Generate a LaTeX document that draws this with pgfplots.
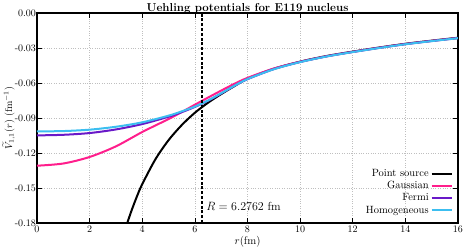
\documentclass[border=0pt]{standalone}
\usepackage{pgfplots}
\pgfplotsset{compat=1.18}
\definecolor{cpink}{RGB}{255,30,140}
\definecolor{cpurple}{RGB}{105,25,200}
\definecolor{cblue}{RGB}{60,190,240}
\begin{document}
\begin{tikzpicture}
\begin{axis}[
  scale only axis,
  width=421pt, height=210pt,
  xmin=0, xmax=16, ymin=-0.18, ymax=0,
  xtick={0,2,...,16},
  ytick={0,-0.03,-0.06,-0.09,-0.12,-0.15,-0.18},
  yticklabels={0.00,-0.03,-0.06,-0.09,-0.12,-0.15,-0.18},
  ticklabel style={font=\fontsize{10}{12}\selectfont},
  yticklabel style={xshift=2.5pt},
  axis line style={line width=1.5pt},
  grid=major,
  grid style={dotted, gray!50, line width=0.6pt},
  tick style={black, line width=0.6pt},
  major tick length=5pt,
  title={\bfseries\fontsize{11.5}{13}\selectfont Uehling potentials for E119 nucleus},
  title style={yshift=-10pt},
  xlabel={\fontsize{11}{12}\selectfont $r$(fm)},
  ylabel={\fontsize{10}{12}\selectfont $\widetilde{V}_{1,1}(r)$ (fm$^{-1}$)},
  xlabel style={yshift=3.5pt},
  ylabel style={yshift=-7pt},
  legend style={draw=none, fill=none, at={(0.995,0.02)}, anchor=south east, font=\fontsize{10.5}{12}\selectfont, row sep=-0.5pt},
  legend cell align=right,
  legend plot pos=right,
  legend image code/.code={\draw[#1] (0pt,0pt) -- (20pt,0pt);},
  every axis plot/.append style={line width=2pt},
]
\addplot[black, smooth] coordinates {
(3.43,-0.180)(3.6,-0.1689)(3.8,-0.1571)(4.0,-0.1467)(4.5,-0.1254)(5.0,-0.1090)
(5.5,-0.0961)(6.0,-0.0855)(6.5,-0.0769)(7.0,-0.0695)(7.5,-0.0627)(8.0,-0.0562)
(9,-0.0478)(10,-0.0417)(11,-0.0369)(12,-0.0331)(13,-0.0296)(14,-0.0264)(15,-0.0237)(16,-0.0212)};
\addlegendentry{Point source}
\addplot[cpink, smooth] coordinates {
(0,-0.1309)(1,-0.1290)(2,-0.1234)(3,-0.1143)(4,-0.1020)(5,-0.0909)(5.5,-0.0849)(6,-0.0786)
(6.5,-0.0725)(7,-0.0665)(7.5,-0.0607)(8,-0.0556)(9,-0.0476)(10,-0.0418)(11,-0.0371)
(12,-0.0333)(13,-0.0298)(14,-0.0266)(15,-0.0239)(16,-0.0214)};
\addlegendentry{Gaussian}
\addplot[cpurple, smooth] coordinates {
(0,-0.1049)(1,-0.1044)(2,-0.1029)(3,-0.0998)(4,-0.0952)(5,-0.0889)(5.5,-0.0850)(6,-0.0805)
(6.5,-0.0752)(7,-0.0690)(7.5,-0.0625)(8,-0.0567)(9,-0.0481)(10,-0.0420)(11,-0.0372)
(12,-0.0334)(13,-0.0299)(14,-0.0267)(15,-0.0240)(16,-0.0215)};
\addlegendentry{Fermi}
\addplot[cblue, smooth] coordinates {
(0,-0.1015)(1,-0.1012)(2,-0.1000)(3,-0.0975)(4,-0.0937)(5,-0.0880)(5.5,-0.0843)(6,-0.0802)
(6.5,-0.0750)(7,-0.0688)(7.5,-0.0624)(8,-0.0566)(9,-0.0482)(10,-0.0421)(11,-0.0373)
(12,-0.0335)(13,-0.0300)(14,-0.0268)(15,-0.0241)(16,-0.0216)};
\addlegendentry{Homogeneous}
\addplot[black, line width=1.6pt, dash pattern=on 3pt off 1.8pt, forget plot] coordinates {(6.2762,-0.18)(6.2762,0)};
\node[anchor=west, font=\fontsize{11.7}{14}\selectfont] at (axis cs:6.3,-0.1655) {$R = 6.2762$ fm};
\end{axis}
\pgfresetboundingbox
\path[use as bounding box] ([xshift=-37pt,yshift=-29pt]current axis.south west) rectangle ([xshift=6pt,yshift=13pt]current axis.north east);
\end{tikzpicture}
\end{document}
